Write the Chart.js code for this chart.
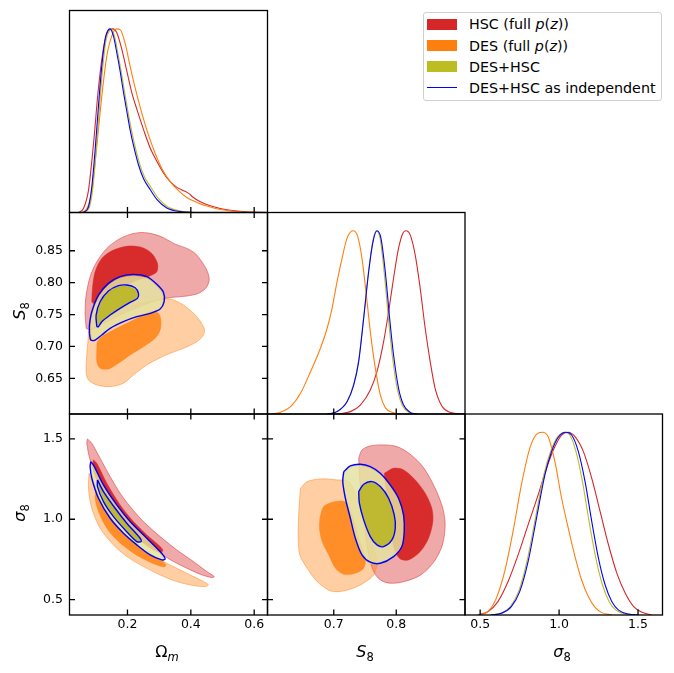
<!DOCTYPE html>
<html><head><meta charset="utf-8">
<script src="https://cdn.jsdelivr.net/npm/chart.js@4.4.1/dist/chart.umd.min.js"></script>
<style>
html,body{margin:0;padding:0;background:#fff;}
#wrap{position:relative;width:674px;height:673px;overflow:hidden;font-family:'DejaVu Sans',sans-serif;color:#000;}
canvas{position:absolute;left:0;top:0;}
.lbl{position:absolute;font-size:16px;line-height:16px;white-space:nowrap;}
.it{font-style:italic;}
.sub{font-size:11.5px;position:relative;top:4px;}
.rot{transform:translate(-50%,-50%) rotate(-90deg);}
.ctr{transform:translate(-50%,0);}
#legend{position:absolute;left:423px;top:12px;width:237px;height:87px;border:1px solid #d0d0d0;border-radius:3px;background:#fff;}
.patch{position:absolute;left:427px;width:30px;height:11px;}
.lline{position:absolute;left:427px;width:30px;height:1.5px;background-color:#0000ff;}
.ltxt{position:absolute;left:469px;font-size:14.3px;line-height:14px;white-space:nowrap;}
</style></head>
<body>
<div id="wrap">
<canvas id="c11" width="674" height="673"></canvas>
<canvas id="c21" width="674" height="673"></canvas>
<canvas id="c31" width="674" height="673"></canvas>
<canvas id="c22" width="674" height="673"></canvas>
<canvas id="c32" width="674" height="673"></canvas>
<canvas id="c33" width="674" height="673"></canvas>
<div class="lbl ctr" style="left:167px;top:644px;">Ω<span class="sub it">m</span></div>
<div class="lbl ctr" style="left:365px;top:644px;"><span class="it">S</span><span class="sub">8</span></div>
<div class="lbl ctr" style="left:562px;top:644px;"><span class="it">σ</span><span class="sub">8</span></div>
<div class="lbl rot" style="left:20px;top:311px;"><span class="it">S</span><span class="sub">8</span></div>
<div class="lbl rot" style="left:20px;top:513px;"><span class="it">σ</span><span class="sub">8</span></div>
<div id="legend"></div>
<div class="patch" style="top:18.5px;background:#d62728;"></div>
<div class="ltxt" style="top:17.3px;">HSC (full <i>p</i>(<i>z</i>))</div>
<div class="patch" style="top:40px;background:#ff7f0e;"></div>
<div class="ltxt" style="top:39px;">DES (full <i>p</i>(<i>z</i>))</div>
<div class="patch" style="top:61px;background:#bcbd22;"></div>
<div class="ltxt" style="top:60px;">DES+HSC</div>
<div class="lline" style="top:86.5px;"></div>
<div class="ltxt" style="top:80.6px;">DES+HSC as independent</div>
</div>
<script>
// ---------- axis ranges and ticks ----------
const omegaRange = [0.017, 0.642];
const s8Range = [0.594, 0.910];
const sigmaRange = [0.404, 1.655];
const pdfRange = [0, 1.1];
const omegaTicks = [0.2, 0.4, 0.6];
const s8YTicks = [0.65, 0.70, 0.75, 0.80, 0.85];
const s8XTicks = [0.7, 0.8];
const sigmaTicks = [0.5, 1.0, 1.5];

// ---------- 1D marginals ([value, normalised density]) ----------
const pdfOmHSC = [[0.045,0],[0.061,0.022],[0.077,0.122],[0.093,0.378],[0.108,0.671],[0.124,0.89],[0.14,0.99],[0.154,1.0],[0.166,0.98],[0.182,0.89],[0.198,0.77],[0.214,0.65],[0.23,0.56],[0.251,0.45],[0.272,0.35],[0.293,0.278],[0.314,0.214],[0.335,0.168],[0.356,0.137],[0.377,0.119],[0.393,0.104],[0.408,0.082],[0.43,0.058],[0.461,0.037],[0.514,0.015],[0.577,0.004],[0.64,0]];
const pdfOmDES = [[0.056,0],[0.072,0.022],[0.087,0.113],[0.103,0.36],[0.119,0.634],[0.135,0.854],[0.151,0.963],[0.166,1.0],[0.177,0.996],[0.193,0.918],[0.208,0.80],[0.224,0.68],[0.245,0.543],[0.266,0.424],[0.287,0.324],[0.308,0.241],[0.335,0.168],[0.361,0.119],[0.387,0.082],[0.419,0.055],[0.451,0.035],[0.493,0.016],[0.556,0.004],[0.619,0]];
const pdfOmJoint = [[0.064,0],[0.08,0.03],[0.0905,0.13],[0.101,0.33],[0.1115,0.57],[0.122,0.79],[0.1325,0.94],[0.143,0.99],[0.1485,1.0],[0.159,0.96],[0.1695,0.87],[0.18,0.77],[0.1905,0.66],[0.201,0.555],[0.2115,0.46],[0.222,0.375],[0.2375,0.27],[0.2535,0.195],[0.275,0.135],[0.296,0.08],[0.328,0.03],[0.37,0.007],[0.415,0]];
const pdfOmIndep = [[0.061,0],[0.077,0.031],[0.0874,0.14],[0.0979,0.34],[0.1084,0.58],[0.119,0.80],[0.1295,0.945],[0.14,0.996],[0.1453,1.0],[0.1558,0.96],[0.1663,0.87],[0.1768,0.77],[0.1874,0.655],[0.198,0.55],[0.2084,0.45],[0.219,0.365],[0.2347,0.26],[0.2505,0.185],[0.2716,0.125],[0.2926,0.072],[0.3242,0.025],[0.366,0.005],[0.41,0]];

const pdfS8HSC = [[0.7053,0],[0.7266,0.013],[0.7426,0.049],[0.7585,0.131],[0.7691,0.231],[0.7798,0.395],[0.7878,0.559],[0.7957,0.741],[0.8037,0.905],[0.8106,0.987],[0.8154,1.0],[0.8223,0.978],[0.8303,0.869],[0.8383,0.687],[0.8463,0.468],[0.8543,0.286],[0.8622,0.14],[0.8729,0.044],[0.8862,0.009],[0.9074,0]];
const pdfS8DES = [[0.5989,0],[0.6149,0.009],[0.6309,0.04],[0.6468,0.113],[0.6628,0.231],[0.6787,0.359],[0.6894,0.468],[0.6973,0.577],[0.7053,0.723],[0.7133,0.85],[0.7213,0.96],[0.7309,1.0],[0.7383,0.97],[0.7452,0.85],[0.7521,0.65],[0.7585,0.45],[0.7665,0.25],[0.7745,0.104],[0.7824,0.035],[0.7931,0.009],[0.8064,0]];
const pdfS8Joint = [[0.6894,0],[0.7053,0.013],[0.7213,0.07],[0.7319,0.165],[0.7399,0.295],[0.7479,0.53],[0.7559,0.785],[0.7625,0.945],[0.7680,1.0],[0.7740,0.96],[0.7808,0.77],[0.7878,0.51],[0.794,0.31],[0.802,0.13],[0.81,0.045],[0.8205,0.008],[0.832,0]];
const pdfS8Indep = [[0.6894,0],[0.7053,0.013],[0.7213,0.067],[0.7319,0.158],[0.7399,0.286],[0.7479,0.523],[0.7559,0.778],[0.7628,0.94],[0.7691,1.0],[0.7755,0.96],[0.7824,0.778],[0.7894,0.523],[0.7957,0.322],[0.8037,0.14],[0.8117,0.049],[0.8223,0.009],[0.833,0]];

const pdfSigHSC = [[0.4851,0],[0.5488,0.018],[0.6125,0.073],[0.6762,0.182],[0.7399,0.328],[0.8036,0.493],[0.8673,0.657],[0.9204,0.803],[0.9735,0.922],[1.0159,0.985],[1.0584,1.0],[1.1008,0.976],[1.1539,0.894],[1.207,0.748],[1.2601,0.566],[1.3132,0.383],[1.3662,0.228],[1.4193,0.119],[1.4724,0.046],[1.5255,0.015],[1.5892,0]];
const pdfSigDES = [[0.4958,0],[0.5488,0.018],[0.6019,0.091],[0.655,0.237],[0.7081,0.456],[0.7611,0.712],[0.8142,0.912],[0.8567,0.989],[0.8928,1.0],[0.931,0.976],[0.9735,0.839],[1.0159,0.639],[1.0584,0.474],[1.1008,0.32],[1.1433,0.19],[1.1858,0.1],[1.2282,0.042],[1.2707,0.013],[1.3344,0]];
const pdfSigJoint = [[0.564,0],[0.628,0.009],[0.692,0.048],[0.745,0.132],[0.798,0.3],[0.851,0.535],[0.904,0.77],[0.947,0.896],[0.99,0.975],[1.037,1.0],[1.068,0.985],[1.107,0.894],[1.148,0.73],[1.19,0.511],[1.233,0.31],[1.275,0.164],[1.317,0.073],[1.36,0.027],[1.424,0.005],[1.49,0]];
const pdfSigIndep = [[0.5701,0],[0.6338,0.009],[0.6975,0.046],[0.7505,0.128],[0.8036,0.292],[0.8567,0.529],[0.9098,0.766],[0.9522,0.894],[0.9947,0.973],[1.0435,1.0],[1.0796,0.985],[1.1221,0.894],[1.1645,0.73],[1.207,0.511],[1.2495,0.31],[1.2919,0.164],[1.3344,0.073],[1.3769,0.027],[1.4406,0.005],[1.5042,0]];

// ---------- 2D contours: Omega_m vs S8 ([omega, S8]) ----------
const cOmS8HSC95 = [[0.0695,0.7283],[0.0663,0.7544],[0.0695,0.7805],[0.0821,0.8093],[0.1032,0.8328],[0.1347,0.8537],[0.1716,0.8678],[0.2084,0.8756],[0.2453,0.8787],[0.2821,0.8761],[0.3137,0.8704],[0.3505,0.8604],[0.3874,0.8537],[0.4137,0.8458],[0.4347,0.8328],[0.4526,0.8171],[0.4579,0.804],[0.4484,0.792],[0.4242,0.7832],[0.3874,0.779],[0.3505,0.7774],[0.3189,0.7753],[0.2926,0.7727],[0.2505,0.7649],[0.1979,0.7544],[0.1453,0.7414],[0.1032,0.7309],[0.0821,0.7257]];
const cOmS8HSC68 = [[0.0874,0.7701],[0.0895,0.791],[0.0979,0.8171],[0.1189,0.838],[0.1558,0.851],[0.2032,0.8573],[0.2453,0.8552],[0.2768,0.8458],[0.2947,0.8302],[0.2926,0.8171],[0.2716,0.8108],[0.24,0.8056],[0.2084,0.7988],[0.1768,0.791],[0.1453,0.7816],[0.1137,0.7727],[0.0926,0.7675]];
const cOmS8DES95 = [[0.0768,0.7231],[0.1453,0.7492],[0.2189,0.7649],[0.3032,0.7727],[0.3347,0.7743],[0.3768,0.7649],[0.4189,0.7466],[0.4421,0.7283],[0.44,0.7179],[0.4189,0.7074],[0.3768,0.697],[0.3347,0.6892],[0.3032,0.6824],[0.2611,0.6709],[0.2189,0.6552],[0.1874,0.6422],[0.1453,0.6369],[0.1032,0.6396],[0.0768,0.6474],[0.0695,0.6604],[0.0716,0.6866],[0.0758,0.7127]];
const cOmS8DES68 = [[0.1032,0.697],[0.1032,0.6761],[0.1137,0.6657],[0.14,0.6646],[0.1716,0.6735],[0.2084,0.6866],[0.2505,0.6996],[0.2874,0.7127],[0.3032,0.7257],[0.3053,0.7414],[0.2979,0.7518],[0.2716,0.7544],[0.24,0.7466],[0.1979,0.7362],[0.1558,0.7257],[0.1189,0.7153],[0.1053,0.7074]];
const cOmS8Joint95 = [[0.083,0.7215],[0.083,0.7336],[0.09,0.7544],[0.11,0.779],[0.141,0.797],[0.177,0.8075],[0.219,0.811],[0.26,0.8075],[0.29,0.796],[0.31,0.784],[0.313,0.7705],[0.301,0.7595],[0.271,0.7528],[0.23,0.7476],[0.188,0.7398],[0.146,0.7293],[0.12,0.719],[0.1,0.7112],[0.088,0.7112]];
const cOmS8Joint68 = [[0.106,0.732],[0.104,0.749],[0.116,0.769],[0.141,0.785],[0.172,0.7935],[0.197,0.7945],[0.222,0.7905],[0.232,0.7825],[0.229,0.7755],[0.207,0.7698],[0.177,0.7605],[0.146,0.7502],[0.121,0.7398],[0.111,0.7325]];
const cOmS8Indep95 = [[0.08,0.7205],[0.08,0.7336],[0.0874,0.7544],[0.1084,0.7805],[0.14,0.7988],[0.1768,0.8093],[0.2189,0.8129],[0.2611,0.8093],[0.2926,0.7973],[0.3137,0.7847],[0.3158,0.7701],[0.3032,0.7586],[0.2716,0.7518],[0.2295,0.7466],[0.1874,0.7388],[0.1453,0.7283],[0.1189,0.7179],[0.0979,0.71],[0.0842,0.71]];
const cOmS8Indep68 = [[0.1032,0.7309],[0.1011,0.7492],[0.1137,0.7701],[0.14,0.7868],[0.1716,0.7952],[0.1979,0.7962],[0.2242,0.792],[0.2347,0.7832],[0.2316,0.7753],[0.2084,0.7691],[0.1768,0.7597],[0.1453,0.7492],[0.1189,0.7388],[0.1084,0.7309]];

// ---------- 2D contours: Omega_m vs sigma8 ([omega, sigma8]) ----------
const cOmSigHSC95 = [[0.0737,1.5],[0.0874,1.473],[0.1137,1.3797],[0.1453,1.2656],[0.1768,1.1618],[0.2084,1.0788],[0.2505,0.9855],[0.3032,0.8921],[0.3558,0.8091],[0.4084,0.7365],[0.4505,0.6743],[0.4737,0.6432],[0.4663,0.6369],[0.4295,0.6577],[0.3874,0.695],[0.3453,0.7365],[0.3032,0.7884],[0.2611,0.8506],[0.2189,0.9232],[0.1768,1.0166],[0.1347,1.1411],[0.1032,1.2656],[0.0821,1.3693],[0.0716,1.473]];
const cOmSigHSC68 = [[0.0926,1.3693],[0.1032,1.3485],[0.1347,1.2241],[0.1768,1.0892],[0.2189,0.9855],[0.2611,0.9025],[0.3032,0.8299],[0.3116,0.8029],[0.2926,0.7988],[0.2505,0.8506],[0.2084,0.9232],[0.1663,1.0166],[0.1242,1.1515],[0.0979,1.2656],[0.0905,1.3278]];
const cOmSigDES95 = [[0.0789,1.2863],[0.0926,1.2137],[0.1242,1.0892],[0.1663,0.9647],[0.2084,0.8714],[0.2611,0.7988],[0.3242,0.7261],[0.3874,0.6639],[0.44,0.612],[0.4558,0.5913],[0.4453,0.5809],[0.4084,0.5871],[0.3558,0.612],[0.3032,0.6535],[0.2505,0.7054],[0.1979,0.7676],[0.1558,0.8402],[0.1137,0.944],[0.0874,1.0685],[0.0768,1.193]];
const cOmSigDES68 = [[0.1011,1.1826],[0.1189,1.0892],[0.1558,0.9855],[0.1979,0.8921],[0.2505,0.8091],[0.3032,0.7469],[0.3221,0.7158],[0.3137,0.7033],[0.2716,0.7324],[0.2189,0.7884],[0.1716,0.861],[0.1347,0.944],[0.1084,1.0477],[0.0979,1.1307]];
const cOmSigJoint95 = [[0.0855,1.345],[0.094,1.325],[0.125,1.205],[0.167,1.083],[0.208,0.982],[0.26,0.879],[0.3,0.798],[0.314,0.755],[0.305,0.75],[0.27,0.781],[0.23,0.843],[0.189,0.916],[0.148,1.008],[0.111,1.13],[0.091,1.25],[0.085,1.32]];
const cOmSigJoint68 = [[0.107,1.236],[0.125,1.168],[0.161,1.065],[0.198,0.972],[0.238,0.882],[0.241,0.865],[0.23,0.866],[0.194,0.937],[0.157,1.018],[0.127,1.11],[0.109,1.2]];
const cOmSigIndep95 = [[0.0842,1.3589],[0.0926,1.3382],[0.1242,1.2137],[0.1663,1.0892],[0.2084,0.9855],[0.2611,0.8817],[0.3032,0.7988],[0.3189,0.7531],[0.3084,0.7469],[0.2716,0.778],[0.2295,0.8402],[0.1874,0.9129],[0.1453,1.0062],[0.1084,1.1307],[0.0874,1.2552],[0.0821,1.3278]];
const cOmSigIndep68 = [[0.1053,1.2448],[0.1242,1.1722],[0.161,1.0685],[0.1979,0.9751],[0.24,0.8817],[0.2432,0.861],[0.2295,0.861],[0.1926,0.9336],[0.1558,1.0166],[0.1242,1.11],[0.1053,1.2033]];

// ---------- 2D contours: S8 vs sigma8 ([S8, sigma8]) ----------
const cS8SigHSC95 = [[0.7399,1.3797],[0.7452,1.4315],[0.7585,1.4564],[0.7798,1.4627],[0.8011,1.4523],[0.8223,1.4046],[0.8436,1.3216],[0.8622,1.193],[0.8745,1.0685],[0.8782,0.9647],[0.8739,0.8402],[0.8606,0.7365],[0.8394,0.6535],[0.8128,0.612],[0.7904,0.6017],[0.7745,0.6224],[0.7638,0.6743],[0.7559,0.778],[0.7505,0.9232],[0.7452,1.0892],[0.7415,1.2552]];
const cS8SigHSC68 = [[0.7809,1.2863],[0.7957,1.3174],[0.8117,1.3071],[0.8303,1.2448],[0.8463,1.1618],[0.8569,1.0685],[0.8585,0.9855],[0.8516,0.8817],[0.8383,0.7988],[0.8197,0.7469],[0.8064,0.7531],[0.7984,0.7988],[0.7931,0.8817],[0.7878,1.027],[0.784,1.1722]];
const cS8SigDES95 = [[0.6468,1.193],[0.6574,1.2344],[0.6787,1.251],[0.7053,1.2448],[0.7239,1.2344],[0.7372,1.1307],[0.7479,0.9855],[0.7612,0.8402],[0.7691,0.7365],[0.7638,0.6535],[0.7426,0.5913],[0.716,0.5539],[0.6947,0.5539],[0.6734,0.612],[0.6574,0.695],[0.6457,0.778],[0.6431,0.8817],[0.6441,1.0477]];
const cS8SigDES68 = [[0.6777,1.0062],[0.684,1.0788],[0.7027,1.11],[0.7186,1.1058],[0.7293,1.027],[0.7399,0.8817],[0.7505,0.7573],[0.7479,0.695],[0.7346,0.6639],[0.716,0.6577],[0.7027,0.695],[0.692,0.778],[0.6814,0.861],[0.6771,0.944]];
const cS8SigJoint95 = [[0.7165,1.29],[0.7268,1.325],[0.7426,1.335],[0.7583,1.32],[0.7742,1.28],[0.79,1.208],[0.803,1.127],[0.8108,1.025],[0.812,0.922],[0.8085,0.829],[0.7955,0.763],[0.7745,0.72],[0.7585,0.724],[0.7455,0.772],[0.7348,0.878],[0.7268,1.004],[0.719,1.128],[0.715,1.23]];
const cS8SigJoint68 = [[0.7405,1.168],[0.7482,1.212],[0.7612,1.228],[0.7742,1.198],[0.7872,1.128],[0.796,1.027],[0.7976,0.945],[0.7926,0.874],[0.7798,0.834],[0.7694,0.845],[0.7588,0.895],[0.7483,0.997],[0.7413,1.097]];
const cS8SigIndep95 = [[0.716,1.2967],[0.7266,1.332],[0.7426,1.3423],[0.7585,1.3278],[0.7745,1.2863],[0.7904,1.2137],[0.8037,1.1307],[0.8117,1.027],[0.8128,0.9232],[0.809,0.8299],[0.7957,0.7676],[0.7745,0.7261],[0.7585,0.7324],[0.7452,0.778],[0.7346,0.8817],[0.7266,1.0062],[0.7186,1.1307],[0.7144,1.2344]];
const cS8SigIndep68 = [[0.7399,1.1722],[0.7479,1.2178],[0.7612,1.2344],[0.7745,1.2033],[0.7878,1.1307],[0.7968,1.027],[0.7984,0.944],[0.7931,0.8714],[0.7798,0.8299],[0.7691,0.8402],[0.7585,0.8921],[0.7479,0.9959],[0.741,1.0996]];

// ---------- styling ----------
const RED = '#d62728', ORANGE = '#ff7f0e', OLIVE = '#bcbd22', BLUE = '#0000ff';
const FONT = {family: "'DejaVu Sans', sans-serif", size: 12.5};
const cols = [[69.5, 267.5], [267.5, 465], [465, 662.5]];
const rows = [[10.5, 212.5], [212.5, 414], [414, 615]];

const framePlugin = {
  id: 'frame',
  afterDraw(chart, args, opts) {
    const {ctx, chartArea: a, scales} = chart;
    const L = 5.5;
    ctx.save();
    ctx.strokeStyle = '#000';
    ctx.lineWidth = 1.3;
    ctx.beginPath();
    scales.x.ticks.forEach(t => {
      const px = scales.x.getPixelForValue(t.value);
      ctx.moveTo(px, a.bottom); ctx.lineTo(px, a.bottom - L);
      if (opts.all) { ctx.moveTo(px, a.top); ctx.lineTo(px, a.top + L); }
    });
    if (opts.all) scales.y.ticks.forEach(t => {
      const py = scales.y.getPixelForValue(t.value);
      ctx.moveTo(a.left, py); ctx.lineTo(a.left + L, py);
      ctx.moveTo(a.right, py); ctx.lineTo(a.right - L, py);
    });
    ctx.stroke();
    ctx.strokeRect(a.left, a.top, a.right - a.left, a.bottom - a.top);
    ctx.restore();
  }
};

function axis(range, ticks, dec, show, horizontal) {
  return {
    type: 'linear', min: range[0], max: range[1],
    grid: {display: false, drawTicks: false},
    border: {display: false},
    ticks: {display: show, font: FONT, color: '#000', padding: horizontal ? 2 : 6.5,
            autoSkip: false, maxRotation: 0, callback: v => Number(v).toFixed(dec)},
    afterBuildTicks: s => { s.ticks = ticks.map(v => ({value: v})); }
  };
}

const pts = arr => arr.map(p => ({x: p[0], y: p[1]}));
const close = arr => pts(arr.concat([arr[0]]));

function curve(arr, color) {
  return {data: pts(arr), showLine: true, borderColor: color, borderWidth: 1.1,
          pointRadius: 0, fill: false, cubicInterpolationMode: 'monotone'};
}
function region(arr, fillColor, edgeColor, edgeWidth) {
  return {data: close(arr), showLine: true, borderColor: edgeColor, borderWidth: edgeWidth,
          backgroundColor: fillColor, pointRadius: 0, fill: 'shape', tension: 0.3};
}
function outline(arr, color) {
  return {data: close(arr), showLine: true, borderColor: color, borderWidth: 1.4,
          pointRadius: 0, fill: false, tension: 0.3};
}
function contourSet(h95, h68, d95, d68, j95, j68, i95, i68) {
  return [
    region(h95, 'rgba(214,39,40,0.40)', 'rgba(214,39,40,0.55)', 0.9),
    region(h68, 'rgba(214,39,40,0.97)', 'rgba(214,39,40,0.9)', 0.6),
    region(d95, 'rgba(255,127,14,0.38)', 'rgba(255,127,14,0.5)', 0.9),
    region(d68, 'rgba(255,127,14,0.82)', 'rgba(255,127,14,0.6)', 0.6),
    region(j95, 'rgba(228,226,160,0.84)', 'rgba(188,189,34,0.5)', 0.8),
    region(j68, 'rgba(184,180,32,0.86)', 'rgba(170,168,30,0.6)', 0.6),
    outline(i95, BLUE),
    outline(i68, BLUE)
  ];
}

function makePanel(id, col, row, xAx, yAx, datasets, all) {
  const [x0, x1] = cols[col], [y0, y1] = rows[row];
  const xH = xAx.ticks.display ? (673 - y1 - 2) : 0;
  const yW = yAx.ticks.display ? (x0 - 2) : 0;
  xAx.afterFit = s => { s.height = xH; };
  yAx.afterFit = s => { s.width = yW; };
  datasets.forEach((d, i) => { d.order = datasets.length - i; });
  new Chart(document.getElementById(id), {
    type: 'scatter',
    data: {datasets},
    options: {
      responsive: false, animation: false, events: [],
      layout: {padding: {left: x0 - yW, right: 674 - x1, top: y0, bottom: 673 - y1 - xH}},
      scales: {x: xAx, y: yAx},
      plugins: {legend: {display: false}, tooltip: {enabled: false}, frame: {all}}
    },
    plugins: [framePlugin]
  });
}

// Row 1
makePanel('c11', 0, 0, axis(omegaRange, omegaTicks, 1, false, true), axis(pdfRange, [], 1, false, false),
  [curve(pdfOmHSC, RED), curve(pdfOmDES, ORANGE), curve(pdfOmJoint, OLIVE), curve(pdfOmIndep, BLUE)], false);
// Row 2
makePanel('c21', 0, 1, axis(omegaRange, omegaTicks, 1, false, true), axis(s8Range, s8YTicks, 2, true, false),
  contourSet(cOmS8HSC95, cOmS8HSC68, cOmS8DES95, cOmS8DES68, cOmS8Joint95, cOmS8Joint68, cOmS8Indep95, cOmS8Indep68), true);
makePanel('c22', 1, 1, axis(s8Range, s8XTicks, 1, false, true), axis(pdfRange, [], 1, false, false),
  [curve(pdfS8HSC, RED), curve(pdfS8DES, ORANGE), curve(pdfS8Joint, OLIVE), curve(pdfS8Indep, BLUE)], false);
// Row 3
makePanel('c31', 0, 2, axis(omegaRange, omegaTicks, 1, true, true), axis(sigmaRange, sigmaTicks, 1, true, false),
  contourSet(cOmSigHSC95, cOmSigHSC68, cOmSigDES95, cOmSigDES68, cOmSigJoint95, cOmSigJoint68, cOmSigIndep95, cOmSigIndep68), true);
makePanel('c32', 1, 2, axis(s8Range, s8XTicks, 1, true, true), axis(sigmaRange, sigmaTicks, 1, false, false),
  contourSet(cS8SigHSC95, cS8SigHSC68, cS8SigDES95, cS8SigDES68, cS8SigJoint95, cS8SigJoint68, cS8SigIndep95, cS8SigIndep68), true);
makePanel('c33', 2, 2, axis(sigmaRange, sigmaTicks, 1, true, true), axis(pdfRange, [], 1, false, false),
  [curve(pdfSigHSC, RED), curve(pdfSigDES, ORANGE), curve(pdfSigJoint, OLIVE), curve(pdfSigIndep, BLUE)], false);
</script>
</body></html>
